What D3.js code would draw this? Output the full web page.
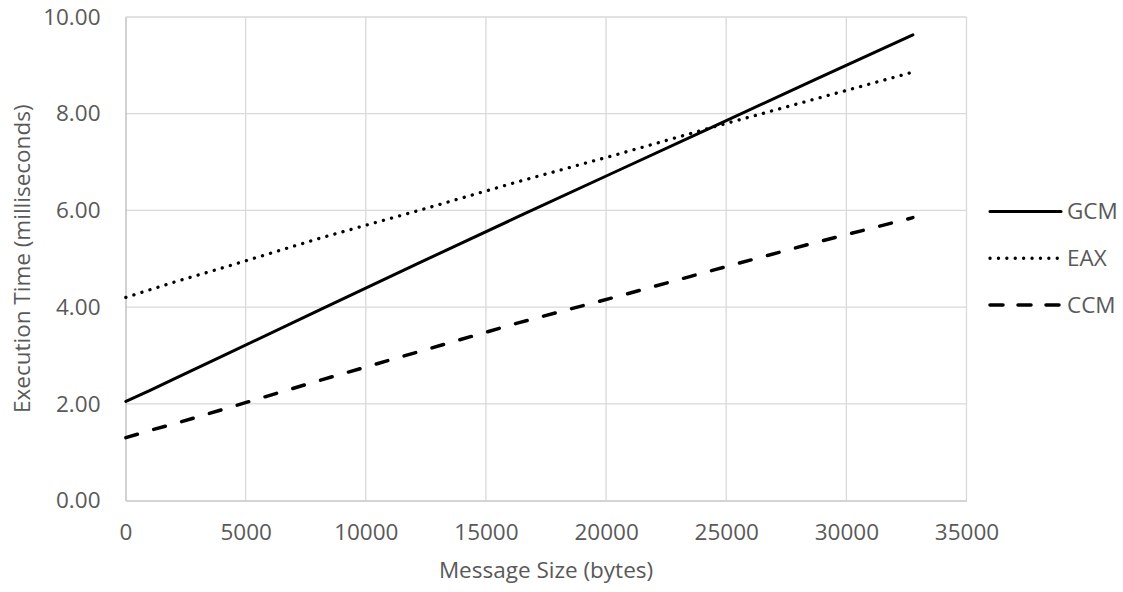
<!DOCTYPE html>
<html>
<head>
<meta charset="utf-8">
<script src="https://cdn.jsdelivr.net/npm/d3@7"></script>
<style>
  html, body { margin: 0; padding: 0; background: #fff; }
  svg { display: block; }
  text { font-family: "Open Sans", "Noto Sans", sans-serif; fill: #595959; }
</style>
</head>
<body>
<svg id="chart" width="1123" height="592"></svg>
<script>
// ---- Data ----
const messageSizes = [16, 1024, 2048, 4096, 8192, 12288, 16384, 20480, 24576, 28672, 32768];
const gcmValues = [2.05, 2.28, 2.52, 3.00, 3.97, 4.93, 5.88, 6.82, 7.76, 8.70, 9.63];
const eaxValues = [4.20, 4.36, 4.52, 4.82, 5.44, 6.01, 6.60, 7.16, 7.74, 8.30, 8.86];
const ccmValues = [1.30, 1.45, 1.59, 1.89, 2.50, 3.09, 3.68, 4.22, 4.78, 5.33, 5.85];
const seriesNames = ["GCM", "EAX", "CCM"];
const xTicks = [0, 5000, 10000, 15000, 20000, 25000, 30000, 35000];
const yTicks = [0, 2, 4, 6, 8, 10];
const xTitle = "Message Size (bytes)";
const yTitle = "Execution Time (milliseconds)";

// ---- Layout ----
const FS = 22.5;
const svg = d3.select("#chart");
const plot = { left: 125.5, right: 966.5, top: 17, bottom: 500.5 };

const x = d3.scaleLinear().domain([0, 35000]).range([plot.left, plot.right]);
const y = d3.scaleLinear().domain([0, 10]).range([plot.bottom, plot.top]);

const styles = {
  GCM: { width: 3, dash: null, cap: "round" },
  EAX: { width: 3.3, dash: "0.1 8.3", cap: "round" },
  CCM: { width: 3.5, dash: "12 17", cap: "round" }
};
const series = [
  { name: seriesNames[0], values: gcmValues },
  { name: seriesNames[1], values: eaxValues },
  { name: seriesNames[2], values: ccmValues }
];

// Gridlines
const grid = svg.append("g");
grid.selectAll("line.v").data(xTicks.filter(d => d > 0)).join("line")
  .attr("x1", d => x(d)).attr("x2", d => x(d))
  .attr("y1", plot.top).attr("y2", plot.bottom)
  .attr("stroke", "#d9d9d9").attr("stroke-width", 1.3);
grid.selectAll("line.h").data(yTicks.filter(d => d > 0)).join("line")
  .attr("x1", plot.left).attr("x2", plot.right)
  .attr("y1", d => y(d)).attr("y2", d => y(d))
  .attr("stroke", "#d9d9d9").attr("stroke-width", 1.3);

// Axes
const xAxis = d3.axisBottom(x).tickValues(xTicks).tickSize(0).tickPadding(24)
  .tickFormat(d3.format("d"));
const gx = svg.append("g").attr("transform", `translate(0,${plot.bottom})`).call(xAxis);
gx.select(".domain").attr("stroke", "#c6c6c6").attr("stroke-width", 1.6);
gx.selectAll("text").attr("font-size", FS).attr("fill", "#595959")
  .attr("font-family", "'Open Sans', sans-serif");

const yAxis = d3.axisLeft(y).tickValues(yTicks).tickSize(0).tickPadding(25)
  .tickFormat(d3.format(".2f"));
const gy = svg.append("g").attr("transform", `translate(${plot.left},0)`).call(yAxis);
gy.select(".domain").attr("stroke", "#c6c6c6").attr("stroke-width", 1.6);
gy.selectAll("text").attr("font-size", FS).attr("fill", "#595959")
  .attr("font-family", "'Open Sans', sans-serif");

// Axis titles
svg.append("text")
  .attr("x", (plot.left + plot.right) / 2).attr("y", 578)
  .attr("text-anchor", "middle").attr("font-size", FS)
  .text(xTitle);
svg.append("text")
  .attr("transform", `translate(30,${(plot.top + plot.bottom) / 2}) rotate(-90)`)
  .attr("text-anchor", "middle").attr("font-size", FS)
  .text(yTitle);

// Lines
const line = d3.line().x(d => x(d[0])).y(d => y(d[1]));
svg.append("g").selectAll("path").data(series).join("path")
  .attr("d", s => line(messageSizes.map((m, i) => [m, s.values[i]])))
  .attr("fill", "none").attr("stroke", "#000")
  .attr("stroke-width", s => styles[s.name].width)
  .attr("stroke-dasharray", s => styles[s.name].dash)
  .attr("stroke-linecap", s => styles[s.name].cap)
  .attr("stroke-linejoin", "round");

// Legend
const legendY = d3.scalePoint().domain(seriesNames).range([211.5, 305]);
const lg = svg.append("g").selectAll("g").data(series).join("g")
  .attr("transform", s => `translate(0,${legendY(s.name)})`);
lg.append("line")
  .attr("x1", 990).attr("x2", 1061).attr("y1", 0).attr("y2", 0)
  .attr("stroke", "#000")
  .attr("stroke-width", s => styles[s.name].width)
  .attr("stroke-dasharray", s => s.name === "CCM" ? "13 15" : styles[s.name].dash)
  .attr("stroke-linecap", s => styles[s.name].cap);
lg.append("text")
  .attr("x", 1067).attr("y", 0).attr("dy", "0.35em")
  .attr("font-size", FS)
  .text(s => s.name);
</script>
</body>
</html>
